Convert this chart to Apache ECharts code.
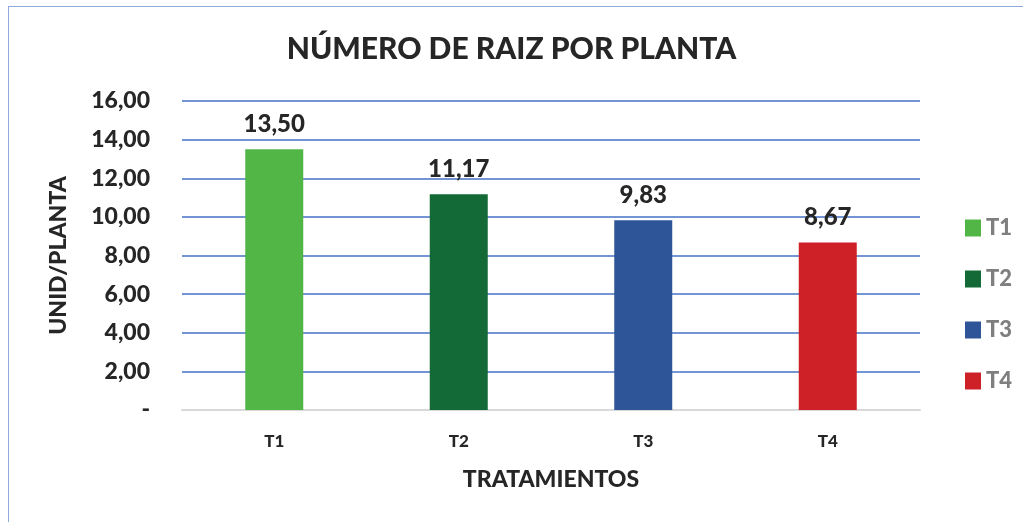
<!DOCTYPE html>
<html>
<head>
<meta charset="utf-8">
<script src="https://cdn.jsdelivr.net/npm/echarts@6/dist/echarts.min.js"></script>
<style>
  html, body { margin: 0; padding: 0; background: #fff; }
  #chart { width: 1023px; height: 522px; }
  #frame { position: absolute; left: 8px; top: 6px; width: 1030px; height: 530px; border: 1.5px solid #8eaadb; box-sizing: border-box; pointer-events: none; }
</style>
</head>
<body>
<div id="chart"></div>
<div id="frame"></div>
<script>
// datos del gráfico
const categories = ['T1', 'T2', 'T3', 'T4'];
const values = [13.50, 11.17, 9.83, 8.67];
const colors = ['#52b646', '#136a37', '#2e5597', '#cd2027'];
const yTicks = { min: 0, max: 16, interval: 2 };

const fmt = (v) => v.toFixed(2).replace('.', ',');
const FONT = 'Lato';
const W = 900;

const chart = echarts.init(document.getElementById('chart'));

// una serie por tratamiento para que la leyenda muestre T1..T4
const series = categories.map((name, i) => ({
  name: name,
  type: 'bar',
  stack: 'total',
  barWidth: 58,
  itemStyle: { color: colors[i] },
  label: {
    show: true,
    position: 'top',
    distance: 13,
    formatter: (p) => fmt(p.value),
    fontFamily: FONT,
    fontWeight: W,
    fontSize: 24,
    color: '#262626'
  },
  data: categories.map((c, j) => (j === i ? values[i] : '-'))
}));

chart.setOption({
  animation: false,
  title: {
    text: 'NÚMERO DE RAIZ POR PLANTA',
    left: 'center',
    top: 29,
    textStyle: { fontFamily: FONT, fontWeight: W, fontSize: 30, color: '#262626' }
  },
  legend: {
    orient: 'vertical',
    left: 960,
    top: 212,
    icon: 'rect',
    itemWidth: 16,
    itemHeight: 17,
    itemGap: 29,
    textStyle: { fontFamily: FONT, fontWeight: W, fontSize: 22, color: '#7f7f7f' }
  },
  grid: { left: 182, right: 103, top: 101, bottom: 112 },
  xAxis: {
    type: 'category',
    data: categories,
    name: 'TRATAMIENTOS',
    nameLocation: 'middle',
    nameGap: 58,
    nameTextStyle: { fontFamily: FONT, fontWeight: W, fontSize: 23, color: '#262626' },
    axisLine: { lineStyle: { color: '#d9d9d9', width: 2 } },
    axisTick: { show: false },
    axisLabel: { margin: 23, fontFamily: FONT, fontWeight: W, fontSize: 17, color: '#262626' }
  },
  yAxis: {
    type: 'value',
    min: yTicks.min,
    max: yTicks.max,
    interval: yTicks.interval,
    name: 'UNID/PLANTA',
    nameLocation: 'middle',
    nameGap: 112,
    nameTextStyle: { fontFamily: FONT, fontWeight: W, fontSize: 23, color: '#262626' },
    axisLine: { show: false },
    axisTick: { show: false },
    splitLine: { lineStyle: { color: '#4472c4', width: 1.5 } },
    axisLabel: {
      margin: 32,
      formatter: (v) => (v === 0 ? '-' : fmt(v)),
      fontFamily: FONT,
      fontWeight: W,
      fontSize: 23,
      color: '#262626'
    }
  },
  series: series
});
</script>
</body>
</html>
